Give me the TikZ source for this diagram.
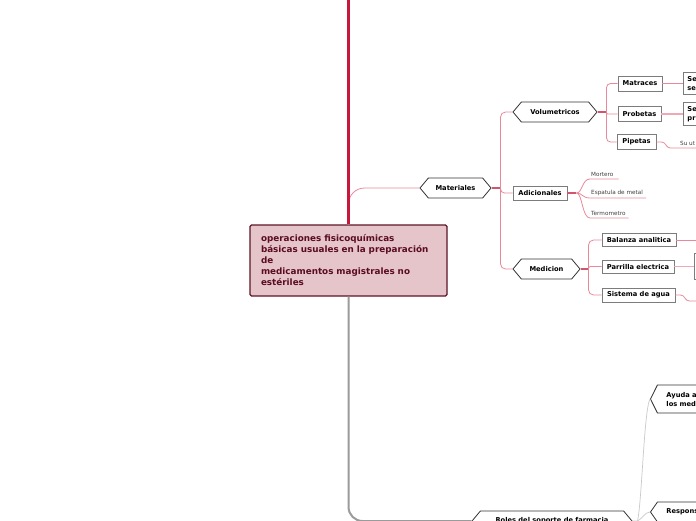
\documentclass[tikz,border=0pt]{standalone}
\usepackage{fontspec}
\setmainfont{DejaVu Sans}
\usetikzlibrary{shapes.symbols}
\definecolor{crim}{HTML}{C8173A}
\definecolor{pk}{HTML}{E8899B}
\definecolor{pkl}{HTML}{EFA8B5}
\definecolor{pkd}{HTML}{D0566E}
\definecolor{rootfill}{HTML}{E5C4CA}
\definecolor{rootdraw}{HTML}{5E1526}
\definecolor{roottext}{HTML}{5A0C20}
\definecolor{gtr}{HTML}{9B9B9B}
\definecolor{gthin}{HTML}{C9C9C9}
\definecolor{boxdraw}{HTML}{7C7C7C}
\begin{document}
\begin{tikzpicture}[x=1pt,y=-1pt,
 hexa/.style={signal, signal to=west and east, signal pointer angle=100, draw=black!80, line width=0.8pt, fill=white, inner sep=0pt, font=\fontsize{6.7}{8}\selectfont\bfseries},
 rbox/.style={rectangle, draw=boxdraw, line width=0.9pt, fill=white, inner sep=0pt, font=\fontsize{6.7}{8}\selectfont\bfseries},
 cutbox/.style={rbox, anchor=west, text width=36pt, inner xsep=4pt, align=left, font=\fontsize{6.7}{9}\selectfont\bfseries},
 leaf/.style={inner xsep=1pt, inner ysep=2.5pt, anchor=south west, font=\fontsize{5.7}{6.5}\selectfont, text=black!75},
 rootbox/.style={rectangle, rounded corners=1.5pt, draw=rootdraw, line width=1.2pt, fill=rootfill, minimum width=197pt, minimum height=71pt, text width=175pt, align=left, inner sep=0pt, font=\fontsize{8.8}{11}\selectfont\bfseries, text=roottext},
 pline/.style={draw=pk, line width=0.8pt},
 stub/.style={draw=pkd, line width=1.3pt},
 trunk/.style={draw=crim, line width=2.4pt},
 gtrunk/.style={draw=gtr, line width=2pt},
 gline/.style={draw=gthin, line width=0.7pt},
]
\clip (0,0) rectangle (696,520);
\fill[white] (0,0) rectangle (696,520);

% nodes
\node[rootbox] (root) at (348.5,260.5) {operaciones fisicoquímicas\\básicas usuales en la preparación\\de\\medicamentos magistrales no\\estériles};
\node[hexa, minimum width=71pt, minimum height=20pt] (mat) at (455.5,188) {Materiales};
\node[hexa, minimum width=84pt, minimum height=20pt] (vol) at (555,112) {Volumetricos};
\node[rbox, minimum width=54pt, minimum height=14pt] (adi) at (540,193) {Adicionales};
\node[hexa, minimum width=67pt, minimum height=20pt] (med) at (546.5,269) {Medicion};
\node[rbox, minimum width=44pt, minimum height=15pt] (matr) at (640,83.5) {Matraces};
\node[rbox, minimum width=43pt, minimum height=15pt] (prob) at (639.5,114) {Probetas};
\node[rbox, minimum width=39pt, minimum height=15pt] (pip) at (636.5,142) {Pipetas};
\node[cutbox, minimum height=22pt] (sese) at (683,83.5) {Se\\se};
\node[cutbox, minimum height=23pt] (sepr) at (683,114) {Se\\pr};
\node[leaf] (suut) at (679,148) {Su ut};
\node[leaf] (mort) at (590,179) {Mortero};
\node[leaf] (esp) at (590,198) {Espatula de metal};
\node[leaf] (term) at (590,218) {Termometro};
\node[rbox, minimum width=74pt, minimum height=13pt] (bal) at (639,240) {Balanza analitica};
\node[rbox, minimum width=72pt, minimum height=13pt] (par) at (638,266.5) {Parrilla electrica};
\node[rbox, minimum width=73pt, minimum height=14pt] (sis) at (638.5,295) {Sistema de agua};
\node[rbox, anchor=west, minimum width=30pt, minimum height=26pt] (pbox) at (694,266.5) {};
\node[hexa, anchor=west, signal pointer angle=127, minimum width=110pt, minimum height=28pt, text width=78pt, align=left, font=\fontsize{6.7}{9}\selectfont\bfseries] (ayu) at (650,399) {Ayuda a\\los med};
\node[hexa, anchor=west, signal pointer angle=110, minimum width=110pt, minimum height=20pt, text width=78pt, align=left] (resp) at (650,512) {Respons};
\node[hexa, minimum width=160pt, minimum height=20pt] (roles) at (552,521) {Roles del soporte de farmacia};

% main trunks
\draw[pline, rounded corners=16pt] (mat.west) -| (root.north);
\draw[trunk] (root.north) -- (348.5,-5);
\draw[gtrunk, rounded corners=14pt] (root.south) |- (roles.west);

% Materiales
\coordinate (jm) at ([xshift=9pt]mat.east);
\draw[stub] (mat.east) -- (jm);
\draw[pline, rounded corners=5pt] (jm) |- (vol.west);
\draw[pline, rounded corners=4pt] (jm) |- (adi.west);
\draw[pline, rounded corners=5pt] (jm) |- (med.west);

% Volumetricos
\coordinate (jv) at ([xshift=9pt]vol.east);
\draw[stub] (vol.east) -- (jv);
\draw[pline, rounded corners=4pt] (jv) |- (matr.west);
\draw[pline, rounded corners=1pt] (jv) |- (prob.west);
\draw[pline, rounded corners=4pt] (jv) |- (pip.west);
\draw[pline] (matr.east) -- (sese.west);
\draw[draw=pkl, line width=2pt] (prob.east) -- (sepr.west);
\draw[pline, rounded corners=3pt] (pip.east) -- ++(8,0) -- ++(3,6) -- ([xshift=40pt]suut.south west);

% Adicionales
\coordinate (ja) at ([xshift=9pt]adi.east);
\draw[stub] (adi.east) -- (ja);
\draw[pline] (ja) .. controls ([xshift=6pt]ja) and ([xshift=-8pt]mort.south west) .. (mort.south west) -- ([xshift=4pt]mort.south east);
\draw[pline] (ja) .. controls ([xshift=6pt]ja) and ([xshift=-8pt]esp.south west) .. (esp.south west) -- ([xshift=2pt]esp.south east);
\draw[pline] (ja) .. controls ([xshift=6pt]ja) and ([xshift=-8pt]term.south west) .. (term.south west) -- ([xshift=2pt]term.south east);

% Medicion
\coordinate (jd) at ([xshift=8pt]med.east);
\draw[stub] (med.east) -- (jd);
\draw[pline, rounded corners=5pt] (jd) |- (bal.west);
\draw[pline, rounded corners=2pt] (jd) |- (par.west);
\draw[pline, rounded corners=5pt] (jd) |- (sis.west);
\draw[pline] (bal.east) -- ++(30,0);
\draw[draw=pkl, line width=1.6pt] (par.east) -- (pbox.west);
\draw[pline, rounded corners=3pt] (sis.east) -- ++(8,0) -- ++(3,6) -- ++(30,0);

% Roles
\coordinate (jr) at ([xshift=5pt]roles.east);
\draw[gline] (roles.east) -- (jr) .. controls (642,500) and (644,410) .. (ayu.west);
\draw[gline] (jr) .. controls (642,519) and (645,512) .. (resp.west);
\end{tikzpicture}
\end{document}
